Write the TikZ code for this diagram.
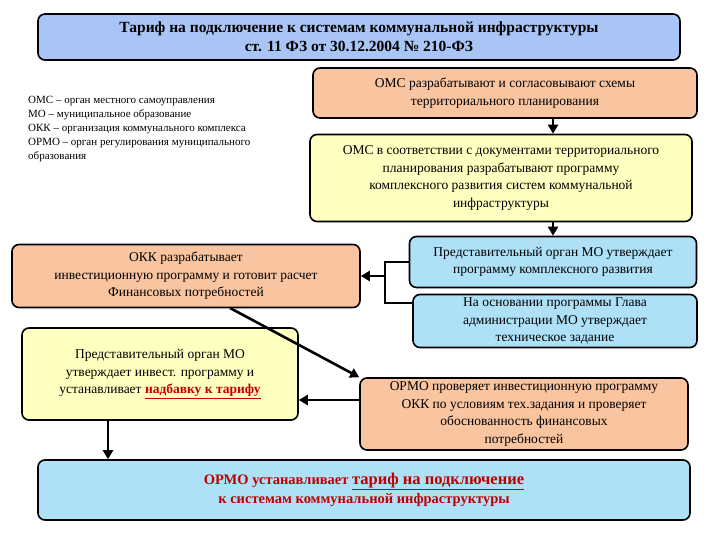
\documentclass[tikz,border=0pt]{standalone}
\usepackage{fontspec}
\setmainfont{Liberation Serif}
\usetikzlibrary{arrows.meta}
\definecolor{salmon}{HTML}{F9C4A0}
\definecolor{lyel}{HTML}{FFFFC0}
\definecolor{lblue}{HTML}{AEE0F8}
\definecolor{tblue}{HTML}{A9C5F5}
\definecolor{bred}{HTML}{C00000}
\begin{document}
\begin{tikzpicture}[x=1pt,y=-1pt,
 box/.style={draw,line width=1.6pt,rounded corners=7pt,align=center,font=\fontsize{13.5}{17.5}\selectfont,inner sep=1pt},
 arr/.style={line width=2.6pt,-{Triangle[length=9pt,width=10pt]}},
 ln/.style={line width=1.3pt}]
\useasboundingbox (0,0) rectangle (720,540);
\node[box,fill=tblue,minimum width=642pt,minimum height=46pt,font=\bfseries\fontsize{15.5}{19}\selectfont] (t) at (359,37) {Тариф на подключение к системам коммунальной инфраструктуры\\ст. 11 ФЗ от 30.12.2004 № 210-ФЗ};
\node[align=left,anchor=north west,font=\fontsize{11}{14}\selectfont,inner sep=0] (leg) at (28,96) {ОМС – орган местного самоуправления\\МО – муниципальное образование\\ОКК – организация коммунального комплекса\\ОРМО – орган регулирования муниципального\\образования};
\node[box,fill=salmon,minimum width=384pt,minimum height=50pt] (o1) at (505,93) {ОМС разрабатывают и согласовывают схемы\\территориального планирования};
\node[box,fill=lyel,minimum width=382pt,minimum height=87pt] (o2) at (501,178) {ОМС в соответствии с документами территориального\\планирования разрабатывают программу\\комплексного развития систем коммунальной\\инфраструктуры};
\node[box,fill=lblue,minimum width=287pt,minimum height=51pt] (b1) at (553,262) {Представительный орган МО утверждает\\программу комплексного развития};
\node[box,fill=lblue,minimum width=284pt,minimum height=53pt] (b2) at (555,321) {На основании программы Глава\\администрации МО утверждает\\техническое задание};
\node[box,fill=salmon,minimum width=348pt,minimum height=63pt] (k) at (186,276) {ОКК разрабатывает\\инвестиционную программу и готовит расчет\\Финансовых потребностей};
\node[box,fill=lyel,minimum width=276pt,minimum height=92pt] (y) at (160,374) {Представительный орган МО\\утверждает инвест. программу и\\устанавливает \textcolor{bred}{\bfseries\underline{надбавку к тарифу}}};
\node[box,fill=salmon,minimum width=328pt,minimum height=72pt] (r) at (524,414) {ОРМО проверяет инвестиционную программу\\ОКК по условиям тех.задания и проверяет\\обоснованность финансовых\\потребностей};
\node[box,fill=lblue,minimum width=652pt,minimum height=60pt,font=\bfseries\fontsize{14.5}{19}\selectfont] (f) at (364,490) {\textcolor{bred}{ОРМО устанавливает} \textcolor{bred}{\fontsize{16.5}{19}\selectfont\underline{тариф на подключение}}\\\textcolor{bred}{к системам коммунальной инфраструктуры}};
\coordinate (c1) at (385,262);
\coordinate (c2) at (385,303);
\coordinate (c3) at (385,276);
\draw[arr] (o1.south -| 553,0) -- (o2.north -| 553,0);
\draw[arr] (o2.south -| 553,0) -- (b1.north -| 553,0);
\draw[ln] (b1.west) -- (c1) -- (c2) -- (b2.west |- c2);
\draw[arr] (c3) -- (k.east);
\draw[arr] (230,308) -- (r.north west);
\draw[arr] (r.west |- 0,400) -- (y.east |- 0,400);
\draw[arr] (y.south -| 108,0) -- (f.north -| 108,0);
\end{tikzpicture}
\end{document}
